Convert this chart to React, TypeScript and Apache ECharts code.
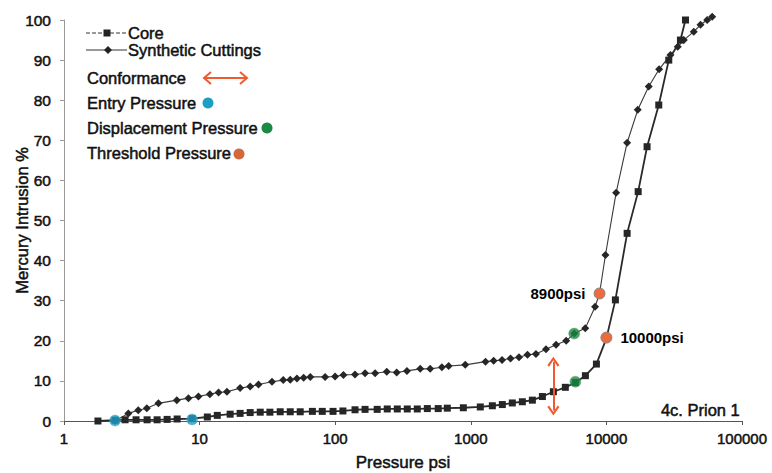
import React, { useEffect, useRef } from "react";
import * as echarts from "echarts";

const xTickLabels = ["1", "10", "100", "1000", "10000", "100000"];

const coreData: [number, number][] = [
  [1.78, 0], [2.38, 0.2], [2.82, 0.3], [3.4, 0.3], [4.1, 0.3], [4.86, 0.3], [5.76, 0.4], [6.83, 0.5],
  [8.8, 0.6], [11.4, 1.0], [13.5, 1.4], [16.8, 1.7], [19.9, 1.9], [23.6, 2.1], [28, 2.2], [33, 2.2],
  [39.3, 2.3], [46.6, 2.3], [55.2, 2.3], [67.9, 2.4], [80.3, 2.4], [96.4, 2.4], [114, 2.5], [140, 2.8],
  [166, 2.9], [204, 2.9], [242, 3.0], [287, 3.0], [340, 3.0], [403, 3.0], [478, 3.1], [575, 3.1],
  [671, 3.2], [881, 3.3], [1175, 3.5], [1442, 3.8], [1708, 4.1], [2024, 4.5], [2400, 4.8], [2845, 5.2],
  [3373, 6.1], [4064, 7.3], [4979, 8.4], [5905, 9.6], [7000, 11.3], [8440, 14.2], [10000, 20.6],
  [11650, 30.2], [14220, 46.8], [17150, 57.2], [19950, 68.4], [24330, 78.8], [28840, 90], [35150, 95],
  [38300, 100],
];

const cuttingsData: [number, number][] = [
  [2.38, 0], [2.98, 1.9], [3.53, 2.7], [4.08, 3.2], [4.97, 4.4], [6.79, 5.2], [8.27, 5.7], [9.8, 6.1],
  [11.9, 6.7], [13.8, 7.1], [15.9, 7.3], [19.9, 8.2], [23.6, 8.6], [27.2, 9.1], [34.2, 9.8], [41.4, 10.2],
  [46.6, 10.3], [52.2, 10.6], [58.5, 10.8], [65.5, 11.0], [84.3, 11.0], [99.8, 11.1], [115, 11.5],
  [140, 11.6], [166, 11.9], [197, 11.9], [240, 12.3], [284, 12.1], [338, 12.5], [424, 13.0], [502, 13.0],
  [612, 13.4], [686, 13.7], [910, 14.0], [1283, 14.8], [1474, 15.0], [1700, 15.2], [1964, 15.6],
  [2266, 15.9], [2618, 16.5], [3024, 16.7], [3587, 17.9], [4255, 19.0], [5050, 20.0], [5790, 21.8],
  [6980, 23.1], [8250, 28.5], [8900, 31.8], [9840, 41.4], [11790, 56.9], [14220, 69.4], [17030, 77.6],
  [20520, 83.4], [24480, 87.7], [29650, 91.3], [33570, 93.3], [37210, 95.0], [44090, 97.1],
  [49400, 98.8], [55350, 100], [60290, 100.8],
];

const entryPoints: [number, number][] = [[2.38, 0.1], [8.8, 0.4]];
const displacementPoints: [number, number][] = [[5790, 21.8], [5905, 9.8]];
const thresholdPoints: [number, number, string, string][] = [
  [8900, 31.8, "8900psi", "left"],
  [10000, 20.8, "10000psi", "right"],
];
const conformance: [number, number, number] = [4064, 14.8, 2.6];

const FONT = "'Liberation Sans', Arial, sans-serif";
const TEXT = "#111111";
const CYAN = "#1f9ec4";
const GREEN = "#1c8a44";
const ORANGE = "#ec6a3c";
const ARROW = "#f05a30";
const CHEVRON = "path://M5,0 L10,8 L8.6,9.2 L5,3.2 L1.4,9.2 L0,8 Z";
const heavy = { textBorderColor: TEXT, textBorderWidth: 0.5 };

export default function App() {
  const ref = useRef<HTMLDivElement>(null);
  useEffect(() => {
    if (!ref.current) return;
    const chart = echarts.init(ref.current, undefined, { renderer: "svg" });
    const txt = (text: string, x: number, y: number) => ({
      type: "text",
      x,
      y,
      style: {
        text,
        fill: TEXT,
        stroke: TEXT,
        lineWidth: 0.5,
        font: `16.5px ${FONT}`,
        verticalAlign: "middle",
        align: "left",
      },
    });
    const option: any = {
      animation: false,
      backgroundColor: "#ffffff",
      grid: { left: 64, right: 30, top: 20, bottom: 52, containLabel: false, outerBoundsMode: "none" },
      xAxis: {
        type: "log",
        logBase: 10,
        min: 1,
        max: 100000,
        name: "Pressure psi",
        nameLocation: "middle",
        nameGap: 33,
        nameMoveOverlap: false,
        nameTextStyle: { fontFamily: FONT, fontSize: 17, color: TEXT, ...heavy },
        axisLine: { lineStyle: { color: "#555", width: 1.2 } },
        axisTick: { show: true, length: 4, lineStyle: { color: "#555" } },
        minorTick: { show: false },
        splitLine: { show: false },
        axisLabel: {
          fontFamily: FONT,
          fontSize: 15,
          color: TEXT,
          margin: 10,
          ...heavy,
          formatter: (v: number) => xTickLabels[Math.round(Math.log10(v))] ?? "",
        },
      },
      yAxis: {
        type: "value",
        min: 0,
        max: 100,
        interval: 10,
        name: "Mercury Intrusion %",
        nameLocation: "middle",
        nameGap: 34,
        nameMoveOverlap: false,
        nameRotate: 90,
        nameTextStyle: { fontFamily: FONT, fontSize: 16.5, color: TEXT, ...heavy },
        axisLine: { show: true, lineStyle: { color: "#999", width: 1 } },
        axisTick: { show: true, length: 4, lineStyle: { color: "#999" } },
        splitLine: { show: false },
        axisLabel: { fontFamily: FONT, fontSize: 15.5, color: TEXT, margin: 13, ...heavy },
      },
      series: [
        {
          name: "Core",
          type: "line",
          data: coreData,
          clip: false,
          symbol: "rect",
          symbolSize: 7,
          lineStyle: { color: "#2a2a2a", width: 1.8 },
          itemStyle: { color: "#262626" },
          z: 3,
        },
        {
          name: "Synthetic Cuttings",
          type: "line",
          data: cuttingsData,
          clip: false,
          symbol: "diamond",
          symbolSize: 8,
          lineStyle: { color: "#3a3a3a", width: 1.1 },
          itemStyle: { color: "#262626" },
          z: 3,
          markLine: {
            silent: true,
            symbol: [CHEVRON, CHEVRON],
            symbolSize: [12, 10],
            label: { show: false },
            lineStyle: { color: ARROW, width: 2, type: "solid" },
            data: [
              [
                { coord: [conformance[0], conformance[1]] },
                { coord: [conformance[0], conformance[2]] },
              ],
            ],
          },
        },
        {
          name: "Entry",
          type: "scatter",
          data: entryPoints,
          symbol: "circle",
          symbolSize: 11,
          itemStyle: { color: CYAN, borderColor: "#5aaac0", borderWidth: 0.5 },
          z: 5,
        },
        {
          name: "Displacement",
          type: "scatter",
          data: displacementPoints,
          symbol: "circle",
          symbolSize: 11,
          itemStyle: { color: GREEN, borderColor: "#6a9a70", borderWidth: 0.5 },
          z: 5,
        },
        {
          name: "Threshold",
          type: "scatter",
          data: thresholdPoints.map((p) => ({
            name: p[2],
            value: [p[0], p[1]],
            label: { position: p[3] },
          })),
          label: {
            show: true,
            formatter: "{b}",
            distance: 8,
            fontFamily: FONT,
            fontSize: 15,
            fontWeight: "bold",
            color: "#000000",
            opacity: 1,
          },
          symbol: "circle",
          symbolSize: 11,
          itemStyle: { color: ORANGE, borderColor: "#8a8a8a", borderWidth: 1, opacity: 1 },
          z: 5,
        },
      ],
      graphic: [
        { type: "line", shape: { x1: 86, y1: 33, x2: 127, y2: 33 }, style: { stroke: "#333", lineWidth: 1, lineDash: [4, 2] } },
        { type: "rect", shape: { x: 103.5, y: 29.5, width: 7, height: 7 }, style: { fill: "#222" } },
        { type: "line", shape: { x1: 86, y1: 50, x2: 127, y2: 50 }, style: { stroke: "#333", lineWidth: 1 } },
        { type: "polygon", shape: { points: [[108, 46], [112, 50], [108, 54], [104, 50]] }, style: { fill: "#222" } },
        txt("Core", 128, 33),
        txt("Synthetic Cuttings", 128, 50),
        txt("Conformance", 87, 78),
        { type: "line", shape: { x1: 204, y1: 78, x2: 247, y2: 78 }, style: { stroke: ARROW, lineWidth: 2 } },
        { type: "polyline", shape: { points: [[211, 72], [204, 78], [211, 84]] }, style: { stroke: ARROW, lineWidth: 2, fill: null } },
        { type: "polyline", shape: { points: [[240, 72], [247, 78], [240, 84]] }, style: { stroke: ARROW, lineWidth: 2, fill: null } },
        txt("Entry Pressure", 87, 103),
        { type: "circle", shape: { cx: 208, cy: 103, r: 5.5 }, style: { fill: CYAN } },
        txt("Displacement Pressure", 87, 128),
        { type: "circle", shape: { cx: 267, cy: 128, r: 5.5 }, style: { fill: GREEN } },
        txt("Threshold Pressure", 87, 153),
        { type: "circle", shape: { cx: 239, cy: 154, r: 5.5 }, style: { fill: "#d2693a" } },
        {
          type: "text",
          right: 32,
          top: 401,
          style: { text: "4c. Prion 1", fill: TEXT, stroke: TEXT, lineWidth: 0.5, font: `16.5px ${FONT}` },
        },
      ],
    };
    chart.setOption(option);
    return () => chart.dispose();
  }, []);
  return (
    <div
      ref={ref}
      style={{ position: "absolute", left: 0, top: 0, width: 772, height: 473, background: "#fff" }}
    />
  );
}
